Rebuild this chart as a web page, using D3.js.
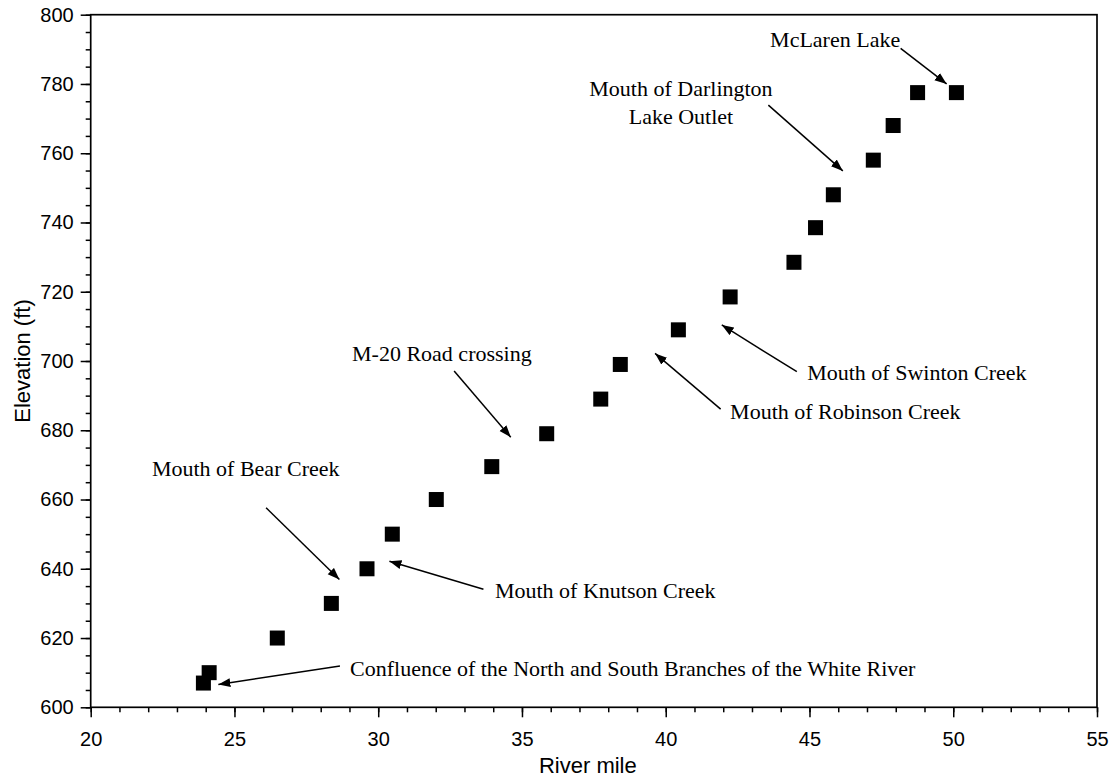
<!DOCTYPE html>
<meta charset="utf-8">
<script src="https://d3js.org/d3.v7.min.js"></script>
<style>
  body { margin: 0; background: #fff; }
</style>
<div id="chart"></div>
<script>

// data
var riverMile = [23.92, 24.12, 26.49, 28.37, 29.61, 30.49, 32.02, 33.95, 35.86, 37.74,
                 38.42, 40.44, 42.24, 44.46, 45.21, 45.83, 47.22, 47.91, 48.76, 50.11];
var elevation = [607, 610, 620, 630, 640, 650, 660, 669.5, 679, 689,
                 699, 709, 718.5, 728.5, 738.5, 748, 758, 768, 777.5, 777.5];

var xTicks = [20, 25, 30, 35, 40, 45, 50, 55];
var yTicks = [600, 620, 640, 660, 680, 700, 720, 740, 760, 780, 800];

// annotation text, its anchor and arrow (river mile / elevation units)
var noteText = [
  ["Confluence of the North and South Branches of the White River"],
  ["Mouth of Bear Creek"],
  ["Mouth of Knutson Creek"],
  ["M-20 Road crossing"],
  ["Mouth of Robinson Creek"],
  ["Mouth of Swinton Creek"],
  ["Mouth of Darlington", "Lake Outlet"],
  ["McLaren Lake"]
];
var noteAt = [[29.02, 609.0], [22.13, 666.8], [34.06, 631.6], [29.09, 700.0],
              [42.24, 683.3], [44.92, 694.5], [40.53, 776.6], [43.63, 790.7]];
var arrowFrom = [[28.67, 611.9], [26.10, 657.6], [33.66, 634.1], [32.64, 697.1],
                 [41.91, 686.1], [44.56, 696.9], [43.57, 773.9], [48.17, 790.3]];
var arrowTo = [[24.44, 606.6], [28.65, 636.9], [30.39, 642.2], [34.61, 678.0],
               [39.63, 702.2], [41.95, 710.4], [46.16, 754.9], [49.77, 780.0]];

var W = 1115, H = 782;
var margin = {top: 14.7, right: 18, bottom: 74.7, left: 90.7};
var width = W - margin.left - margin.right,
    height = H - margin.top - margin.bottom;

var svg = d3.select("#chart").append("svg")
    .attr("width", W).attr("height", H)
  .append("g")
    .attr("transform", "translate(" + margin.left + "," + margin.top + ")");

var x = d3.scaleLinear().domain([20, 55]).range([0, width]);
var y = d3.scaleLinear().domain([600, 800]).range([height, 0]);

// minor ticks
svg.append("g")
    .attr("transform", "translate(0," + height + ")")
    .call(d3.axisBottom(x).tickValues(d3.range(20, 56, 1)).tickSize(5).tickFormat(""))
    .call(g => g.select(".domain").remove());
svg.append("g")
    .call(d3.axisLeft(y).tickValues(d3.range(600, 801, 5)).tickSize(5).tickFormat(""))
    .call(g => g.select(".domain").remove());

// major ticks + labels
var xAxis = svg.append("g")
    .attr("transform", "translate(0," + height + ")")
    .call(d3.axisBottom(x).tickValues(xTicks).tickSize(10).tickPadding(15));
var yAxis = svg.append("g")
    .call(d3.axisLeft(y).tickValues(yTicks).tickSize(10).tickPadding(7));

[xAxis, yAxis].forEach(function(g) {
  g.select(".domain").remove();
  g.selectAll("text")
    .attr("font-family", "Liberation Sans, Arial, sans-serif")
    .attr("font-size", 20)
    .attr("fill", "#000");
});
svg.selectAll(".tick line").attr("stroke", "#000").attr("stroke-width", 1.5);

// frame
svg.append("rect")
    .attr("width", width).attr("height", height)
    .attr("fill", "none").attr("stroke", "#000").attr("stroke-width", 1.7);

// axis titles
svg.append("text")
    .attr("x", width / 2 - 6).attr("y", height + 66)
    .attr("text-anchor", "middle")
    .attr("font-family", "Liberation Sans, Arial, sans-serif")
    .attr("font-size", 22)
    .text("River mile");
svg.append("text")
    .attr("transform", "translate(" + (-margin.left + 30) + "," + (height / 2) + ") rotate(-90)")
    .attr("text-anchor", "middle")
    .attr("font-family", "Liberation Sans, Arial, sans-serif")
    .attr("font-size", 22)
    .text("Elevation (ft)");

// arrowhead
svg.append("defs").append("marker")
    .attr("id", "head")
    .attr("viewBox", "0 -5 12 10")
    .attr("refX", 12).attr("refY", 0)
    .attr("markerUnits", "userSpaceOnUse")
    .attr("markerWidth", 12).attr("markerHeight", 10)
    .attr("orient", "auto")
  .append("path")
    .attr("d", "M0,-4.5L12,0L0,4.5Z")
    .attr("fill", "#000");

// points
svg.selectAll(".pt")
    .data(riverMile)
  .enter().append("rect")
    .attr("class", "pt")
    .attr("x", function(d) { return x(d) - 7.5; })
    .attr("y", function(d, i) { return y(elevation[i]) - 7.5; })
    .attr("width", 15).attr("height", 15)
    .attr("fill", "#000");

// annotations
svg.selectAll(".arrow")
    .data(arrowFrom)
  .enter().append("line")
    .attr("class", "arrow")
    .attr("x1", function(d) { return x(d[0]); })
    .attr("y1", function(d) { return y(d[1]); })
    .attr("x2", function(d, i) { return x(arrowTo[i][0]); })
    .attr("y2", function(d, i) { return y(arrowTo[i][1]); })
    .attr("stroke", "#000").attr("stroke-width", 1.5)
    .attr("marker-end", "url(#head)");

var notes = svg.selectAll(".note")
    .data(noteText)
  .enter().append("text")
    .attr("class", "note")
    .attr("font-family", "Liberation Serif, Times New Roman, serif")
    .attr("font-size", 22)
    .attr("fill", "#000")
    .attr("text-anchor", function(d) { return d.length > 1 ? "middle" : "start"; })
    .attr("x", function(d, i) { return x(noteAt[i][0]); })
    .attr("y", function(d, i) { return y(noteAt[i][1]); });
notes.selectAll("tspan")
    .data(function(d, i) { return d.map(function(t) { return {t: t, i: i}; }); })
  .enter().append("tspan")
    .attr("x", function(d) { return x(noteAt[d.i][0]); })
    .attr("dy", function(d, j) { return j === 0 ? 0 : 28; })
    .text(function(d) { return d.t; });

</script>
